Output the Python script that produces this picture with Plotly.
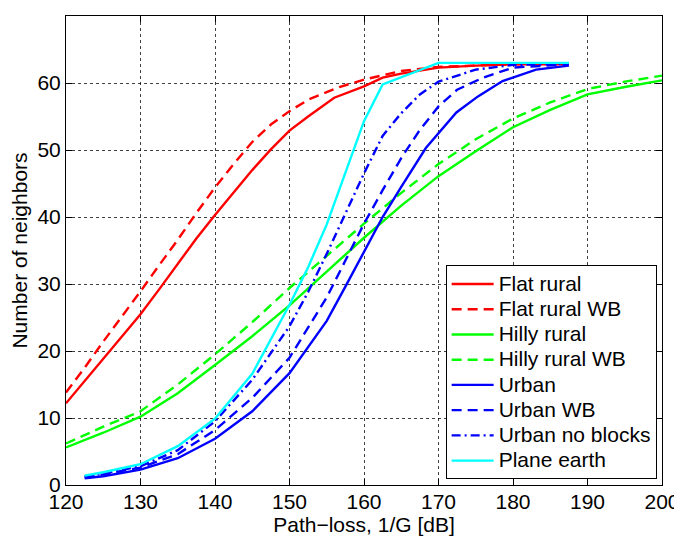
import plotly.graph_objects as go

# ---- data ----
flat_x = [120, 122.5, 125, 127.5, 130, 132.5, 135, 137.5, 140, 142.5, 145, 147.5, 150, 152.5, 156, 160, 162.5, 165, 170, 175, 180, 187.5]
flat_y = [12.2, 15.5, 18.8, 22.1, 25.5, 29.2, 33.0, 36.8, 40.3, 43.6, 47.0, 50.1, 52.9, 55.0, 57.8, 59.5, 60.8, 61.4, 62.3, 62.6, 62.8, 62.8]

flatwb_x = [120, 122.5, 125, 127.5, 130, 132.5, 135, 137.5, 140, 142.5, 145, 147.5, 150, 152.5, 156.7, 160, 165, 170, 180, 187.5]
flatwb_y = [13.8, 17.5, 21.4, 25.1, 28.9, 32.8, 36.6, 40.6, 44.4, 47.9, 51.2, 53.8, 55.8, 57.5, 59.4, 60.5, 61.8, 62.4, 62.8, 62.9]

hilly_x = [120, 125, 130, 135, 140, 145, 150, 155, 160, 165, 170, 175, 180, 185, 190, 195, 200]
hilly_y = [5.6, 7.8, 10.2, 13.7, 17.9, 22.2, 26.8, 31.8, 36.9, 41.7, 46.1, 49.8, 53.4, 56.0, 58.3, 59.4, 60.4]

hillywb_x = [120, 125, 130, 135, 140, 145, 150, 155, 160, 165, 170, 175, 180, 185, 190, 195, 200]
hillywb_y = [6.2, 8.7, 11.0, 15.0, 19.5, 24.3, 29.4, 34.2, 39.0, 43.6, 47.9, 51.6, 54.7, 57.1, 59.1, 60.2, 61.1]

urban_x = [122.5, 125, 130, 135, 140, 145, 150, 155, 157.5, 160, 162.5, 165, 168.3, 172.4, 175.3, 178.6, 183.1, 187.5]
urban_y = [1.0, 1.3, 2.3, 4.0, 6.9, 11.0, 16.7, 24.5, 29.6, 34.8, 40.0, 44.5, 50.3, 55.6, 58.0, 60.3, 62.0, 62.6]

urbanwb_x = [122.5, 125, 130, 135, 140, 145, 150, 155, 157.5, 160, 162.5, 165, 167.5, 170, 172.5, 176, 180, 187.5]
urbanwb_y = [1.2, 1.6, 2.6, 4.6, 8.2, 13.0, 19.0, 28.0, 33.5, 39.0, 44.0, 48.8, 53.0, 56.5, 59.0, 60.8, 62.3, 62.8]

noblock_x = [122.5, 125, 130, 135, 140, 145, 150, 152.5, 155, 157.5, 160, 162.5, 165, 167.5, 170, 175, 180, 187.5]
noblock_y = [1.3, 1.7, 2.8, 5.2, 9.5, 15.7, 23.7, 28.8, 34.5, 40.5, 46.5, 52.1, 55.5, 58.3, 60.2, 62.0, 62.7, 62.9]

plane_x = [122.5, 125, 130, 135, 140, 145, 150, 152.5, 155, 157.5, 160, 162.5, 170, 187.5]
plane_y = [1.4, 1.9, 3.1, 5.8, 9.9, 16.6, 26.9, 32.5, 38.9, 46.5, 54.3, 59.8, 63.0, 63.0]

x_ticks = [120, 130, 140, 150, 160, 170, 180, 190, 200]
y_ticks = [0, 10, 20, 30, 40, 50, 60, 70]

series = [
    ("Flat rural", flat_x, flat_y, "#ff0000", "solid"),
    ("Flat rural WB", flatwb_x, flatwb_y, "#ff0000", "10px,6px"),
    ("Hilly rural", hilly_x, hilly_y, "#00ff00", "solid"),
    ("Hilly rural WB", hillywb_x, hillywb_y, "#00ff00", "10px,6px"),
    ("Urban", urban_x, urban_y, "#0000ff", "solid"),
    ("Urban WB", urbanwb_x, urbanwb_y, "#0000ff", "10px,6px"),
    ("Urban no blocks", noblock_x, noblock_y, "#0000ff", "9px,4px,2px,4px"),
    ("Plane earth", plane_x, plane_y, "#00ffff", "solid"),
]

FONT = "Liberation Sans, Arial, Helvetica, sans-serif"
FS = 21

fig = go.Figure()
for name, xs, ys, col, dash in series:
    fig.add_trace(go.Scatter(
        x=xs, y=ys, mode="lines",
        name='<span style="font-size:%dpx">%s</span>' % (FS, name),
        line=dict(color=col, width=2.4, dash=dash)))

axis_common = dict(
    showline=True, linecolor="black", linewidth=1, mirror="ticks",
    ticks="inside", ticklen=6, tickcolor="black",
    showgrid=True, gridcolor="rgba(0,0,0,0.75)", gridwidth=1, griddash="3px,3px",
    zeroline=False, automargin=False,
    tickfont=dict(size=FS, color="black", family=FONT),
)

# page body has an 8px default margin, so the figure is 8px smaller
fig.update_layout(
    width=674, height=532,
    margin=dict(l=58, r=20, t=8, b=55),
    paper_bgcolor="white", plot_bgcolor="white",
    font=dict(family=FONT, size=FS, color="black"),
    xaxis=dict(range=[120, 200], tickvals=x_ticks, ticklabelstandoff=-2, **axis_common,
               title=dict(text="Path\u2212loss, 1/G [dB]", font=dict(size=FS), standoff=0)),
    yaxis=dict(range=[0, 70], tickvals=y_ticks, **axis_common,
               title=dict(text="Number of neighbors", font=dict(size=FS), standoff=8)),
    legend=dict(x=0.991, y=0.012, xanchor="right", yanchor="bottom",
                bgcolor="white", bordercolor="black", borderwidth=1,
                font=dict(size=17.1, family=FONT), tracegroupgap=0, itemwidth=42),
    showlegend=True,
)

fig.write_html("out.html")
